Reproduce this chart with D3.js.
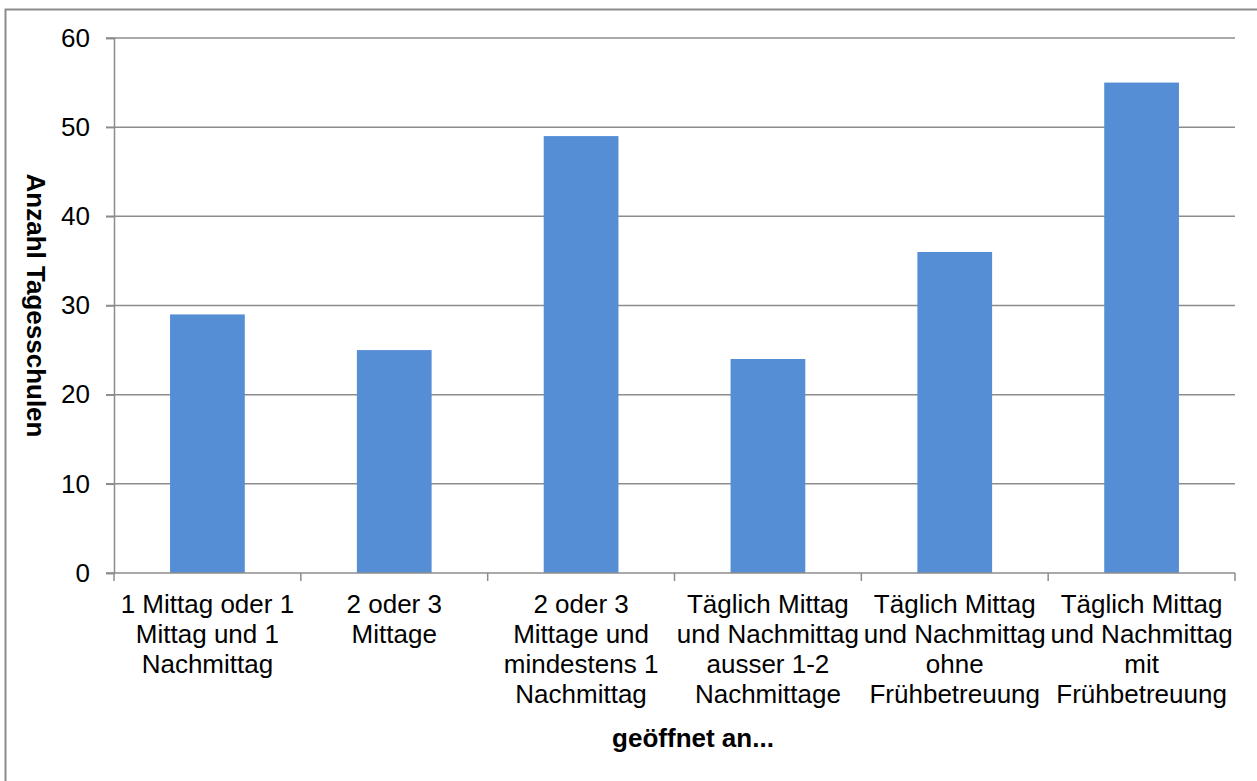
<!DOCTYPE html>
<html>
<head>
<meta charset="utf-8">
<script src="https://cdn.jsdelivr.net/npm/d3@7"></script>
<style>
  html, body { margin: 0; padding: 0; background: #fff; }
  svg { display: block; font-family: "Liberation Sans", Arial, sans-serif; }
</style>
</head>
<body>
<svg id="chart" width="1257" height="781"></svg>
<script>
// Opening patterns of day schools
const categories = ["c1", "c2", "c3", "c4", "c5", "c6"];
const categoryLines = [
  ["1 Mittag oder 1", "Mittag und 1", "Nachmittag"],
  ["2 oder 3", "Mittage"],
  ["2 oder 3", "Mittage und", "mindestens 1", "Nachmittag"],
  ["Täglich Mittag", "und Nachmittag", "ausser 1-2", "Nachmittage"],
  ["Täglich Mittag", "und Nachmittag", "ohne", "Frühbetreuung"],
  ["Täglich Mittag", "und Nachmittag", "mit", "Frühbetreuung"]
];
const values = [29, 25, 49, 24, 36, 55];
const yTicks = [0, 10, 20, 30, 40, 50, 60];
const yTitle = "Anzahl Tagesschulen";
const xTitle = "geöffnet an...";

const svg = d3.select("#chart");
const gridColor = "#8c8c8c";
const barColor = "#558ed5";
const fontSize = 26;

const plot = { left: 114, right: 1235, top: 38, bottom: 573 };

const x = d3.scaleBand()
  .domain(categories)
  .range([plot.left, plot.right])
  .paddingInner(0.6)
  .paddingOuter(0.3);

const y = d3.scaleLinear()
  .domain([0, 60])
  .range([plot.bottom, plot.top]);

// chart frame
svg.append("rect")
  .attr("x", 5.5).attr("y", 9.5)
  .attr("width", 1400).attr("height", 900)
  .attr("fill", "none")
  .attr("stroke", gridColor)
  .attr("stroke-width", 2);

// horizontal gridlines with short outside ticks
svg.append("g")
  .selectAll("line")
  .data(yTicks.filter(d => d > 0))
  .join("line")
  .attr("x1", plot.left - 8)
  .attr("x2", plot.right)
  .attr("y1", d => y(d))
  .attr("y2", d => y(d))
  .attr("stroke", gridColor)
  .attr("stroke-width", 1.5);

// bars
svg.append("g")
  .selectAll("rect")
  .data(values)
  .join("rect")
  .attr("x", (d, i) => x(categories[i]))
  .attr("width", x.bandwidth())
  .attr("y", d => y(d))
  .attr("height", d => y(0) - y(d))
  .attr("fill", barColor);

// y axis
const yAxis = svg.append("g")
  .attr("transform", `translate(${plot.left},0)`)
  .call(d3.axisLeft(y).tickValues(yTicks).tickSize(8).tickPadding(16).tickFormat(d3.format("d")));
yAxis.select(".domain").attr("stroke", gridColor).attr("stroke-width", 1.5);
yAxis.selectAll(".tick line").attr("stroke", gridColor).attr("stroke-width", 1.5);
yAxis.selectAll(".tick text")
  .attr("font-size", fontSize)
  .attr("font-family", "'Liberation Sans', Arial, sans-serif")
  .attr("fill", "#000");

// x axis baseline and category boundary ticks
const step = x.step();
const boundaries = d3.range(categories.length + 1).map(i => plot.left + i * (plot.right - plot.left) / categories.length);
svg.append("line")
  .attr("x1", plot.left - 8).attr("x2", plot.right)
  .attr("y1", y(0)).attr("y2", y(0))
  .attr("stroke", gridColor).attr("stroke-width", 1.5);
svg.append("g")
  .selectAll("line")
  .data(boundaries)
  .join("line")
  .attr("x1", d => d).attr("x2", d => d)
  .attr("y1", y(0)).attr("y2", y(0) + 8)
  .attr("stroke", gridColor).attr("stroke-width", 1.5);

// category labels
const labels = svg.append("g")
  .attr("font-size", fontSize)
  .attr("text-anchor", "middle")
  .attr("fill", "#000");
categories.forEach((c, i) => {
  const t = labels.append("text")
    .attr("x", x(c) + x.bandwidth() / 2)
    .attr("y", 613);
  categoryLines[i].forEach((line, j) => {
    t.append("tspan")
      .attr("x", x(c) + x.bandwidth() / 2)
      .attr("dy", j === 0 ? 0 : 30)
      .text(line);
  });
});

// axis titles
svg.append("text")
  .attr("transform", `translate(26.5,${(plot.top + plot.bottom) / 2}) rotate(90)`)
  .attr("text-anchor", "middle")
  .attr("font-size", fontSize)
  .attr("font-weight", "bold")
  .text(yTitle);

svg.append("text")
  .attr("x", 693)
  .attr("y", 747)
  .attr("text-anchor", "middle")
  .attr("font-size", fontSize)
  .attr("font-weight", "bold")
  .text(xTitle);
</script>
</body>
</html>
